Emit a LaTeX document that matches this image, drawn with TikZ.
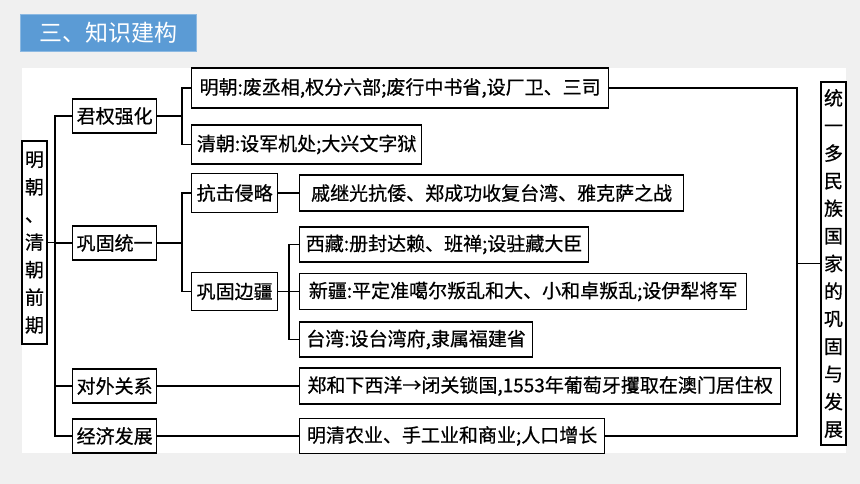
\documentclass[tikz,border=0pt]{standalone}
\usepackage{fontspec}
\newfontfamily\hei{Noto Sans CJK SC}
\newfontfamily\heib[FakeBold=0.6]{Noto Sans CJK SC}
\usetikzlibrary{positioning}
\definecolor{bggray}{HTML}{F0F0F0}
\definecolor{titleblue}{HTML}{5B9BD5}

\begin{document}
\begin{tikzpicture}
  [
    x=1pt, y=-1pt,
    box/.style  = {draw, rectangle, fill=white, line width=1.3pt, inner xsep=4pt, inner ysep=0pt, anchor=west},
    vbox/.style = {draw, rectangle, fill=white, line width=1.3pt, inner sep=0pt, minimum width=25pt, align=center, font=\heib\fontsize{19}{27.6}\selectfont},
    conn/.style = {line width=1.3pt},
    titlebox/.style = {draw=titleblue!70!white, fill=titleblue, rectangle, minimum width=176pt, minimum height=37pt, text=white, font=\hei\fontsize{23}{26}\selectfont},
  ]

  \tikzstyle{every node}=[font=\heib\fontsize{19}{22}\selectfont]

  % page and panel
  \useasboundingbox (0,0) rectangle (860,484);
  \fill[bggray] (0,0) rectangle (860,484);
  \fill[white] (22,68) rectangle (846,453);

  \node (title) at (108,32.5) [titlebox] {三、知识建构};

  % the two end boxes
  \node (root) at (34.5,242.5) [vbox, minimum height=203pt] {明\\朝\\、\\清\\朝\\前\\期};
  \node (tongyi) at (833.5,263.5) [vbox, minimum height=363pt] {统\\一\\多\\民\\族\\国\\家\\的\\巩\\固\\与\\发\\展};

  % first level
  \foreach \name/\y/\txt in {junquan/116/君权强化, gonggu/243/巩固统一, duiwai/386/对外关系, jingji/436/经济发展}
    \node (\name) at (72,\y) [box, minimum width=83pt, minimum height=34pt] {\txt};

  % second level
  \node (ming) at (191,88) [box, minimum width=417pt, minimum height=40pt] {明朝:废丞相,权分六部;废行中书省,设厂卫、三司};
  \node (qing) at (191,144.5) [box, minimum width=230pt, minimum height=39pt] {清朝:设军机处;大兴文字狱};
  \node (kangji) at (191,193) [box, minimum width=86pt, minimum height=39pt] {抗击侵略};
  \node (bianjiang) at (191,291.5) [box, minimum width=86pt, minimum height=38pt] {巩固边疆};

  % third level
  \node (qi) at (299,193) [box, minimum width=384pt, minimum height=36pt] {戚继光抗倭、郑成功收复台湾、雅克萨之战};
  \node (xizang) at (299,244.5) [box, minimum width=289pt, minimum height=35pt] {西藏:册封达赖、班禅;设驻藏大臣};
  \node (xinjiang) at (299,291.5) [box, minimum width=447pt, minimum height=36pt] {新疆:平定准噶尔叛乱和大、小和卓叛乱;设伊犁将军};
  \node (taiwan) at (299,339.5) [box, minimum width=233pt, minimum height=35pt] {台湾:设台湾府,隶属福建省};
  \node (zhenghe) at (299,386) [box, minimum width=481pt, minimum height=36pt] {郑和下西洋→闭关锁国,1553年葡萄牙攫取在澳门居住权};
  \node (nongye) at (299,436) [box, minimum width=305pt, minimum height=35pt] {明清农业、手工业和商业;人口增长};

  % branch points
  \coordinate (trunk) at (55,242.5);
  \coordinate (b1) at (182,116);
  \coordinate (b2) at (182,243);
  \coordinate (b3) at (289,291.5);
  \coordinate (rj) at (797,263.5);

  % connectors
  \draw[conn] (root.east) -- (trunk);
  \draw[conn] (junquan.west) -| (trunk) |- (jingji.west);
  \draw[conn] (gonggu.west) -- (gonggu.west -| trunk);
  \draw[conn] (duiwai.west) -- (duiwai.west -| trunk);

  \draw[conn] (junquan.east) -- (b1);
  \draw[conn] (ming.west) -| (b1) |- (qing.west);

  \draw[conn] (gonggu.east) -- (b2);
  \draw[conn] (kangji.west) -| (b2) |- (bianjiang.west);
  \draw[conn] (kangji.east) -- (qi.west);

  \draw[conn] (bianjiang.east) -- (b3);
  \draw[conn] (xizang.west) -| (b3) |- (taiwan.west);
  \draw[conn] (b3) -- (xinjiang.west);

  \draw[conn] (duiwai.east) -- (zhenghe.west);
  \draw[conn] (jingji.east) -- (nongye.west);

  \draw[conn] (ming.east) -| (rj) |- (nongye.east);
  \draw[conn] (rj) -- (tongyi.west);

\end{tikzpicture}
\end{document}
